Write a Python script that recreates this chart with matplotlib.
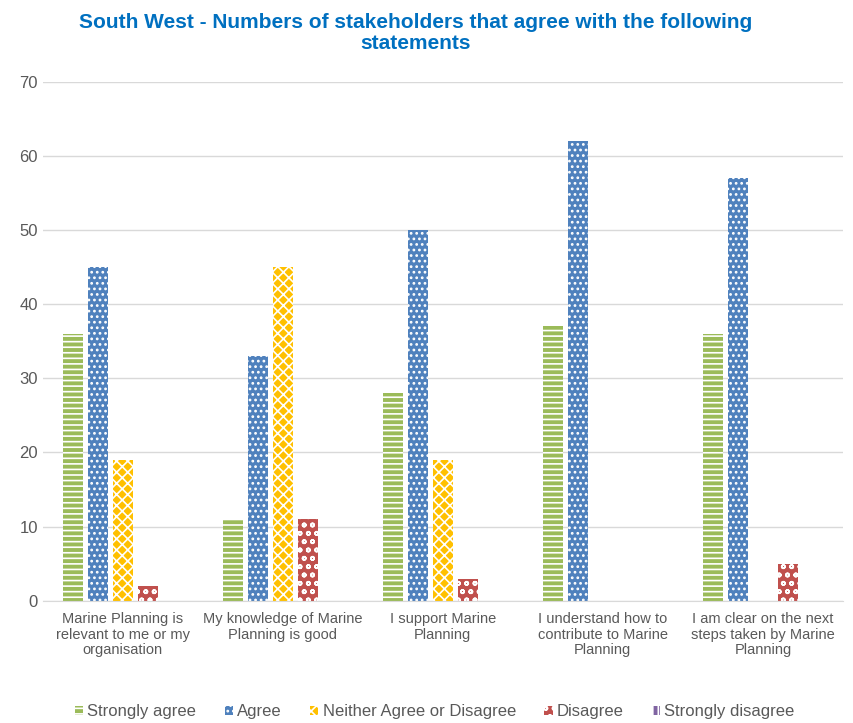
import matplotlib.pyplot as plt
import numpy as np

plt.rcParams['font.family'] = ['Liberation Sans', 'DejaVu Sans']
plt.rcParams['hatch.linewidth'] = 1.2

categories = ["Marine Planning is\nrelevant to me or my\norganisation",
              "My knowledge of Marine\nPlanning is good",
              "I support Marine\nPlanning",
              "I understand how to\ncontribute to Marine\nPlanning",
              "I am clear on the next\nsteps taken by Marine\nPlanning"]
strongly_agree = [36, 11, 28, 37, 36]
agree = [45, 33, 50, 62, 57]
neither = [19, 45, 19, 0, 0]
disagree = [2, 11, 3, 0, 5]
strongly_disagree = [0, 0, 0, 0, 0]

series = [("Strongly agree", strongly_agree, "#9BBB59", "---"),
          ("Agree", agree, "#4F81BD", "..."),
          ("Neither Agree or Disagree", neither, "#FFC000", "xxx"),
          ("Disagree", disagree, "#C0504D", "oo"),
          ("Strongly disagree", strongly_disagree, "#8064A2", "|||")]

fig = plt.figure(figsize=(8.54, 7.23), dpi=100)
ax = fig.add_axes([0.05, 0.169, 0.937, 0.718])

x = np.arange(len(categories))
w = 0.125
step = 0.156
for i, (name, vals, col, hatch) in enumerate(series):
    ax.bar(x + (i - 2) * step, vals, w, color=col, edgecolor="white",
           hatch=hatch, linewidth=0, label=name)

ax.set_xlim(-0.5, 4.5)
ax.set_ylim(0, 70)
ax.set_yticks(range(0, 71, 10))
ax.yaxis.grid(True, color="#D9D9D9", linewidth=1)
ax.set_axisbelow(True)
for s in ["top", "right", "left"]:
    ax.spines[s].set_visible(False)
ax.spines["bottom"].set_color("#D9D9D9")
ax.tick_params(axis="both", length=0, colors="#595959", labelsize=12)
ax.set_xticks(x)
ax.set_xticklabels(categories, fontsize=10.5, linespacing=1.15)
ax.tick_params(axis="x", pad=8)

fig.suptitle("South West - Numbers of stakeholders that agree with the following\nstatements",
             x=0.487, y=0.982, fontsize=15, fontweight="bold", color="#0070C0",
             linespacing=1.15)

leg = ax.legend(loc="center", bbox_to_anchor=(0.49, -0.214), ncol=5,
                frameon=False, fontsize=12, handlelength=0.5, handleheight=0.5,
                columnspacing=1.7, handletextpad=0.25)
for t in leg.get_texts():
    t.set_color("#595959")

fig.savefig("out.png", dpi=100)
